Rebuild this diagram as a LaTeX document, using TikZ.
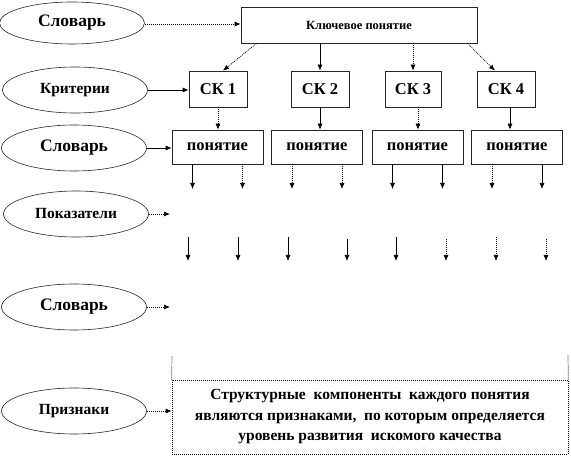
\documentclass[tikz,border=0pt]{standalone}
\usepackage{fontspec}
\setmainfont{Liberation Serif}
\usetikzlibrary{arrows.meta,shapes.geometric}
\begin{document}
\begin{tikzpicture}[x=1pt,y=-1pt,
  ell/.style={draw=black!85, line width=0.6pt, ellipse, minimum width=145pt, minimum height=46pt, inner sep=0pt},
  big/.style={font=\bfseries\fontsize{17.5}{19}\selectfont},
  small/.style={font=\bfseries\fontsize{15.5}{17}\selectfont},
  box/.style={draw=black!85, line width=0.7pt, inner sep=0pt, font=\bfseries\fontsize{16.5}{18}\selectfont},
  arr/.style={-{Latex[length=6pt,width=5pt]}, line width=0.7pt},
  darr/.style={arr, dash pattern=on 1pt off 1pt},
  dline/.style={line width=0.7pt, dash pattern=on 1pt off 1pt}
]
\useasboundingbox (0,0) rectangle (571,457);

% ellipses
\node[ell,big,minimum height=42pt] (E1) at (72,23) {Словарь};
\node[ell,small] (E2) at (75,90) {Критерии};
\node[ell,big] (E3) at (74,148) {Словарь};
\node[ell,small] (E4) at (76,214) {Показатели};
\node[ell,big] (E5) at (74,307) {Словарь};
\node[ell,small] (E6) at (74,411) {Признаки};

% key concept box
\node[box, minimum width=236pt, minimum height=36pt, font=\bfseries\fontsize{12.5}{14}\selectfont] (K) at (359,25) {Ключевое понятие};

% SK boxes
\node[box, minimum width=58pt, minimum height=36pt] (S1) at (218,89) {СК 1};
\node[box, minimum width=58pt, minimum height=36pt] (S2) at (320,89) {СК 2};
\node[box, minimum width=56pt, minimum height=36pt] (S3) at (413,89) {СК 3};
\node[box, minimum width=58pt, minimum height=36pt] (S4) at (506,89) {СК 4};

% concept boxes
\node[box, minimum width=91pt, minimum height=34pt] (P1) at (217.5,147) {понятие};
\node[box, minimum width=91pt, minimum height=34pt] (P2) at (317,147) {понятие};
\node[box, minimum width=91pt, minimum height=34pt] (P3) at (417.5,147) {понятие};
\node[box, minimum width=91pt, minimum height=34pt] (P4) at (517,147) {понятие};

% bottom box
\node[draw, line width=0.7pt, dash pattern=on 1pt off 1pt, minimum width=396pt, minimum height=74pt, inner sep=0pt, align=center,
  font=\bfseries\fontsize{15.5}{20.5}\selectfont] (B) at (370,417)
  {Структурные\ \ компоненты\ \ каждого понятия\\являются признаками,\ \ по которым определяется\\уровень развития\ \ искомого качества};
\coordinate (BL) at (172,356);
\coordinate (BR) at (568,355);
\draw[dline] (B.north west) -- (BL);
\draw[dline] (B.north east) -- (BR);

% ellipse arrows
\draw[darr] (E1.east |- 0,24) -- (K.west |- 0,24);
\draw[arr] (E2.east) -- (S1.west |- E2.east);
\draw[arr] (E3.east) -- (P1.west |- E3.east);
\coordinate (T4) at (170,214);
\draw[darr] (E4.east) -- (T4);
\coordinate (T5) at (170,307);
\draw[darr] (E5.east) -- (T5);
\draw[darr] (E6.east) -- (B.west |- E6.east);

% key -> SK
\draw[darr] ([xshift=16pt]K.south west) -- ([xshift=5pt]S1.north);
\draw[arr] (S2.north |- K.south) -- (S2.north);
\draw[darr] (S3.north |- K.south) -- (S3.north);
\draw[darr] ([xshift=-10pt]K.south east) -- ([xshift=-11pt]S4.north);

% SK -> concept
\draw[darr] (S1.south) -- (S1.south |- P1.north);
\draw[arr] (S2.south) -- (S2.south |- P2.north);
\draw[darr] ([xshift=5pt]S3.south) -- ([xshift=5pt]S3.south |- P3.north);
\draw[arr] ([xshift=4pt]S4.south) -- ([xshift=4pt]S4.south |- P4.north);

% concept -> first row
\foreach \p/\a/\b in {P1/arr/darr, P2/darr/darr, P3/arr/arr, P4/darr/arr}{
  \coordinate (\p L) at ([xshift=-25pt]\p.south |- 0,189);
  \coordinate (\p R) at ([xshift=25pt]\p.south |- 0,189);
  \draw[\a] ([xshift=-25pt]\p.south) -- (\p L);
  \draw[\b] ([xshift=25pt]\p.south) -- (\p R);
}

% second row
\foreach \x/\s/\t in {188/arr/237, 238/arr/237, 288/arr/237, 347/arr/239, 396/arr/237, 446/darr/239, 496/darr/237, 546/darr/239}{
  \coordinate (A\x) at (\x,\t);
  \coordinate (Z\x) at (\x,261);
  \draw[\s] (A\x) -- (Z\x);
}
\end{tikzpicture}
\end{document}
